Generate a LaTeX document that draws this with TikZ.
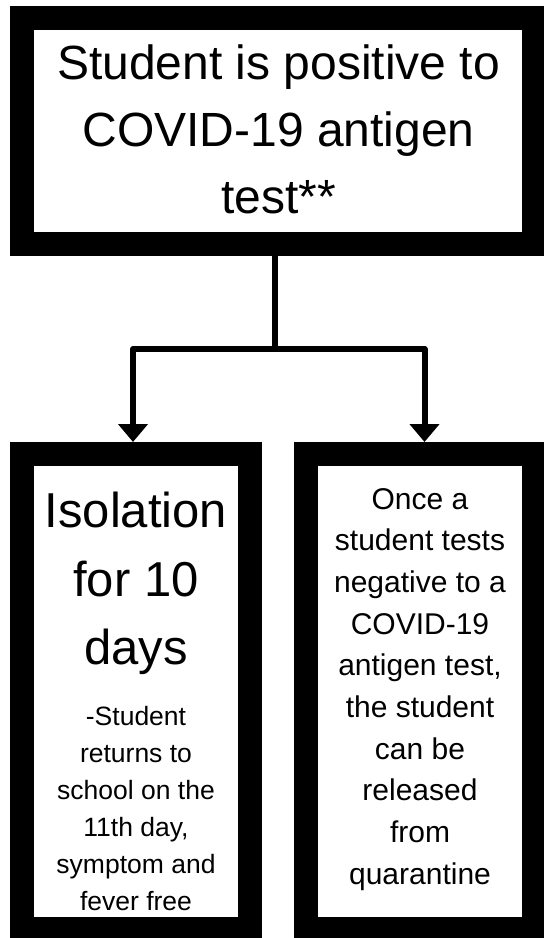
\documentclass[tikz,border=0pt]{standalone}
\usepackage{fontspec}
\setmainfont{Liberation Sans}
\usetikzlibrary{arrows.meta}
\begin{document}
\begin{tikzpicture}[x=1pt,y=-1pt,
  framebox/.style={draw=black,fill=white,line width=24pt,inner sep=0pt},
  txt/.style={inner sep=0pt,align=center,anchor=north,text=black},
  conn/.style={draw=black,line width=6pt,line join=round},
  arr/.style={conn,-{Triangle[width=29pt,length=18pt]}}]
\useasboundingbox (0,0) rectangle (544,938);
\fill[white] (0,0) rectangle (544,938);
% boxes
\node[framebox,minimum width=512pt,minimum height=226pt] (top) at (278,131) {};
\node[framebox,minimum width=228pt,minimum height=475pt] (iso) at (136,691.5) {};
\node[framebox,minimum width=228pt,minimum height=475pt] (rel) at (420,691.5) {};
% texts
\node[txt,font=\fontsize{48}{67}\selectfont] (topT) at (278.5,45)
  {Student is positive to\\COVID-19 antigen\\test**};
\node[txt,font=\fontsize{49}{68.5}\selectfont] (isoT) at (136,492)
  {Isolation\\for 10\\days};
\node[txt,font=\fontsize{26.5}{37}\selectfont] (isoS) at (136,705.7)
  {-Student\\returns to\\school on the\\11th day,\\symptom and\\fever free};
\node[txt,font=\fontsize{30}{41.67}\selectfont] (relT) at (420,488)
  {Once a\\student tests\\negative to a\\COVID-19\\antigen test,\\the student\\can be\\released\\from\\quarantine};
% connectors
\coordinate (split) at (275,349);
\draw[conn] (top.south -| split) -- (split);
\draw[arr] (split) -| ([xshift=-3pt]iso.north);
\draw[arr] (split) -| ([xshift=4.5pt]rel.north);
\end{tikzpicture}
\end{document}
